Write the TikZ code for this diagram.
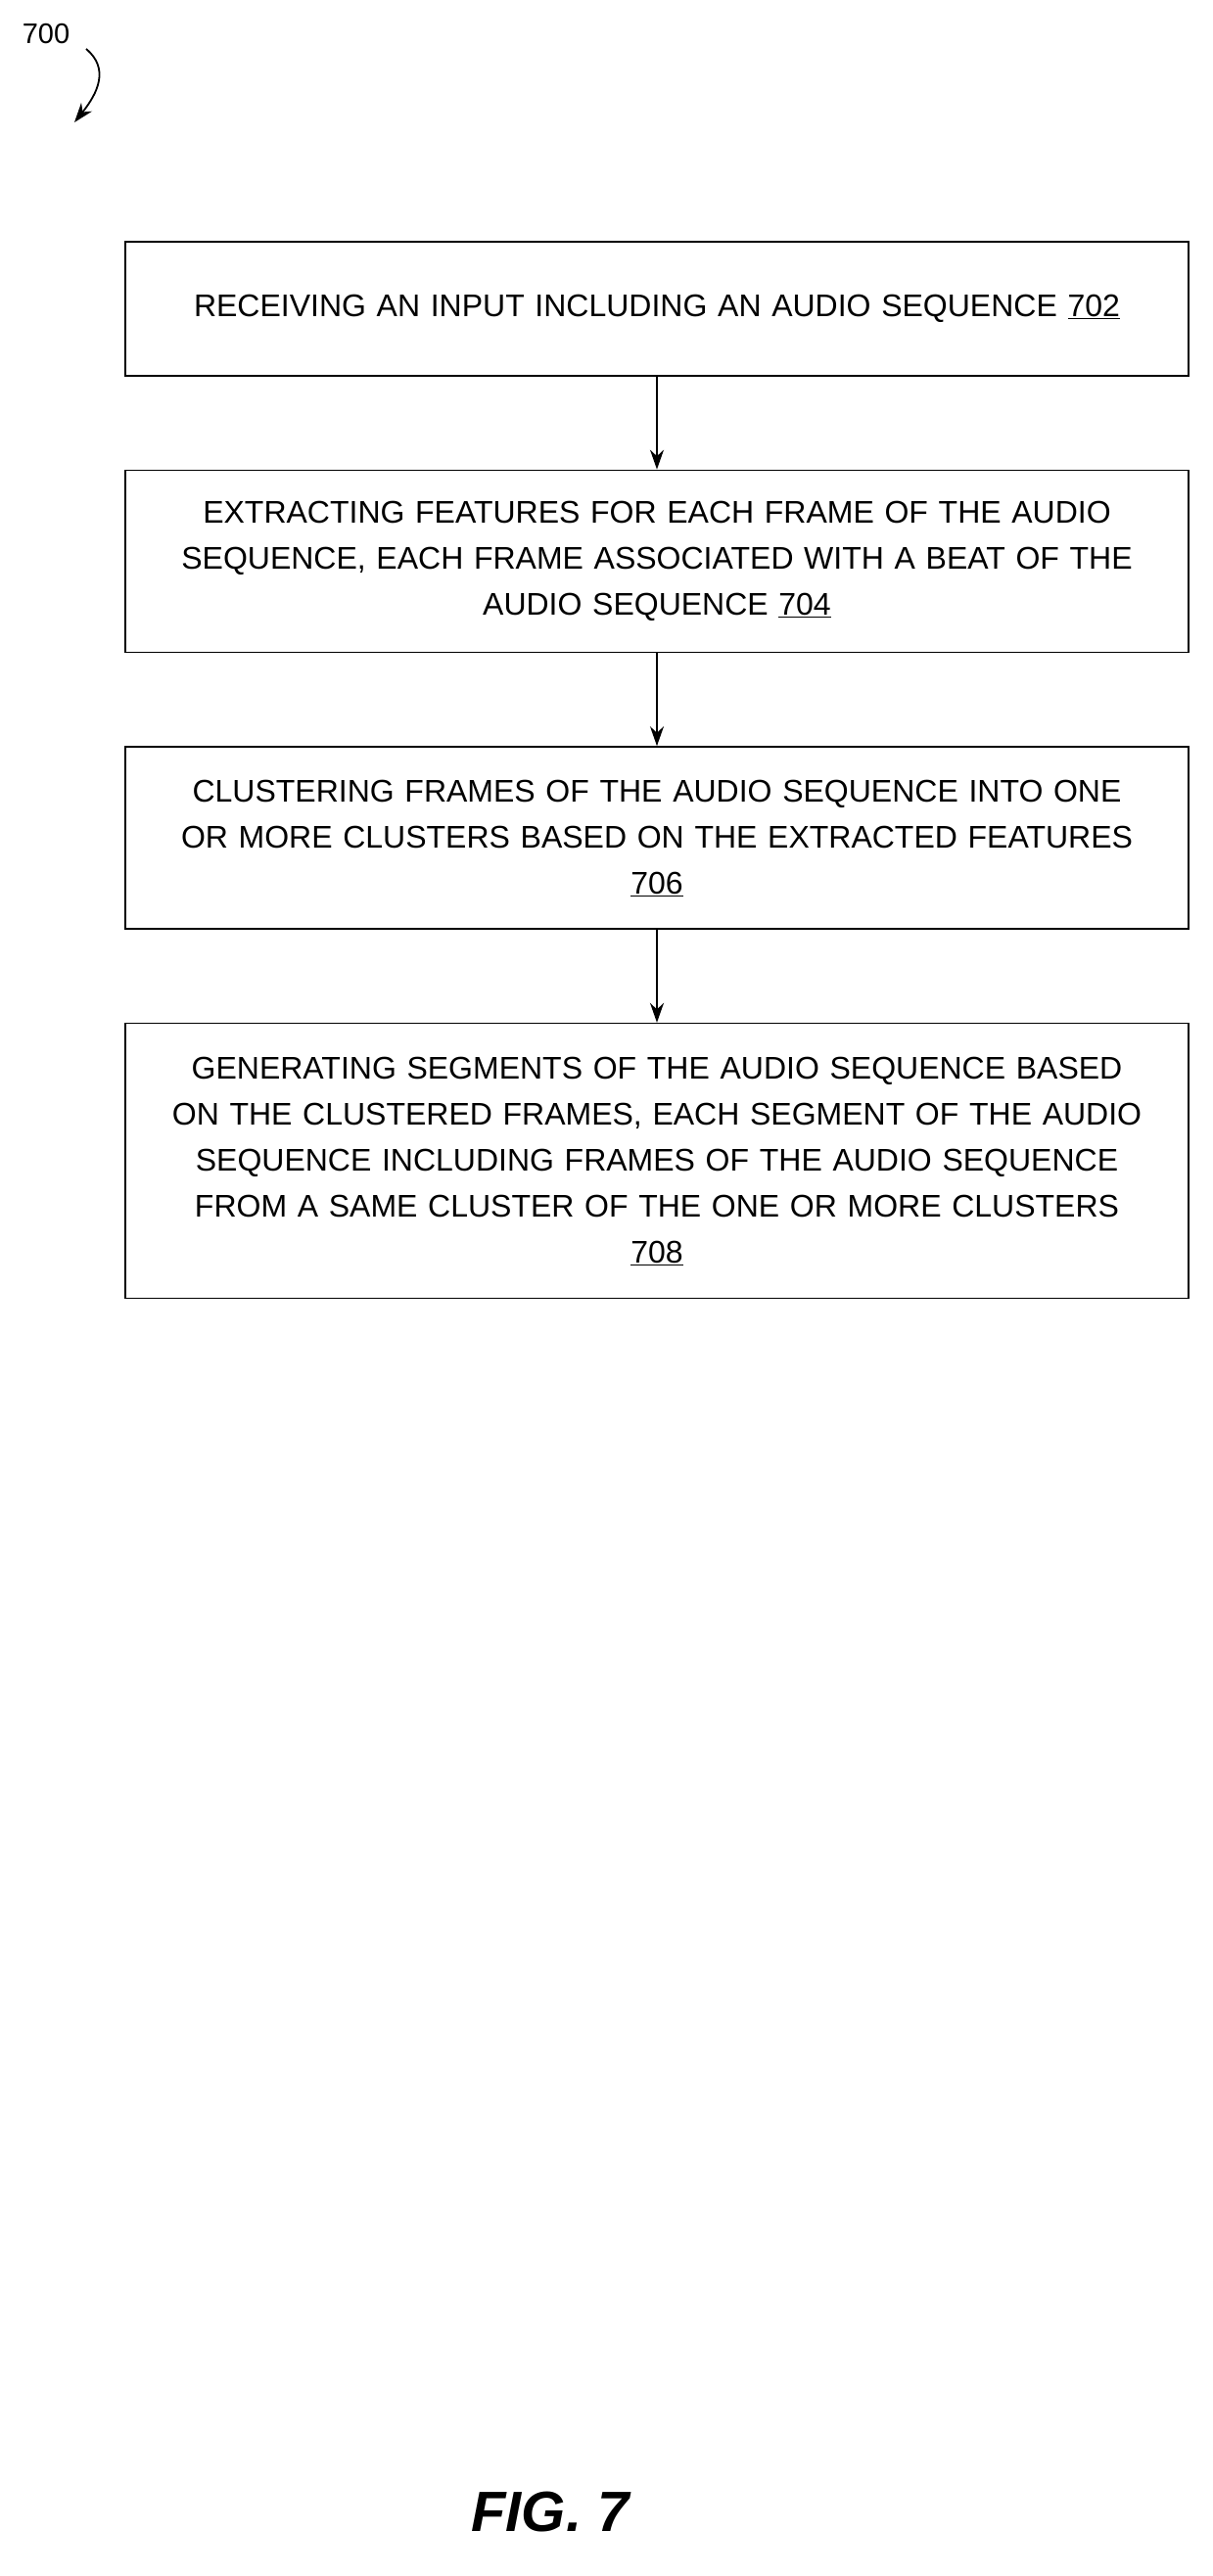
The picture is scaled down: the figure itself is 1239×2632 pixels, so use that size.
\documentclass[tikz,border=0pt]{standalone}
\usepackage{fontspec}
\setmainfont{Liberation Sans}
\usetikzlibrary{positioning,arrows.meta}

\begin{document}
\begin{tikzpicture}[
        x=1pt, y=-1pt,
        node distance=95pt,
        stepbox/.style={draw, line width=1.6pt, minimum width=1086pt, text width=1076pt,
          align=center, inner sep=0pt, font=\fontsize{32}{47}\selectfont},
        flow/.style={-{Stealth[length=20pt,width=14pt]}, line width=1.8pt}
    ]
    \useasboundingbox (0,0) rectangle (1239,2632);

    % Label
    \node[font=\fontsize{29}{34}\selectfont] (fig) at (47,35) {700};
    \coordinate (figtip) at (76,125);
    \draw[flow] (88,50) .. controls (112,70) and (100,95) .. (figtip);

    % Nodes
    \node[stepbox, minimum height=137pt, anchor=north] (s702) at (671,246)
      {RECEIVING AN INPUT INCLUDING AN AUDIO SEQUENCE \underline{702}};
    \node[stepbox, minimum height=186pt, below=of s702] (s704)
      {EXTRACTING FEATURES FOR EACH FRAME OF THE AUDIO\\ SEQUENCE, EACH FRAME ASSOCIATED WITH A BEAT OF THE\\ AUDIO SEQUENCE \underline{704}};
    \node[stepbox, minimum height=186pt, below=of s704] (s706)
      {CLUSTERING FRAMES OF THE AUDIO SEQUENCE INTO ONE\\ OR MORE CLUSTERS BASED ON THE EXTRACTED FEATURES\\ \underline{706}};
    \node[stepbox, minimum height=281pt, below=of s706] (s708)
      {GENERATING SEGMENTS OF THE AUDIO SEQUENCE BASED\\ ON THE CLUSTERED FRAMES, EACH SEGMENT OF THE AUDIO\\ SEQUENCE INCLUDING FRAMES OF THE AUDIO SEQUENCE\\ FROM A SAME CLUSTER OF THE ONE OR MORE CLUSTERS\\ \underline{708}};

    \node[font=\fontsize{58}{64}\selectfont\bfseries\itshape] (cap) at (562,2566) {FIG. 7};

    % Edges
    \draw[flow] (s702) -- (s704);
    \draw[flow] (s704) -- (s706);
    \draw[flow] (s706) -- (s708);
\end{tikzpicture}
\end{document}
